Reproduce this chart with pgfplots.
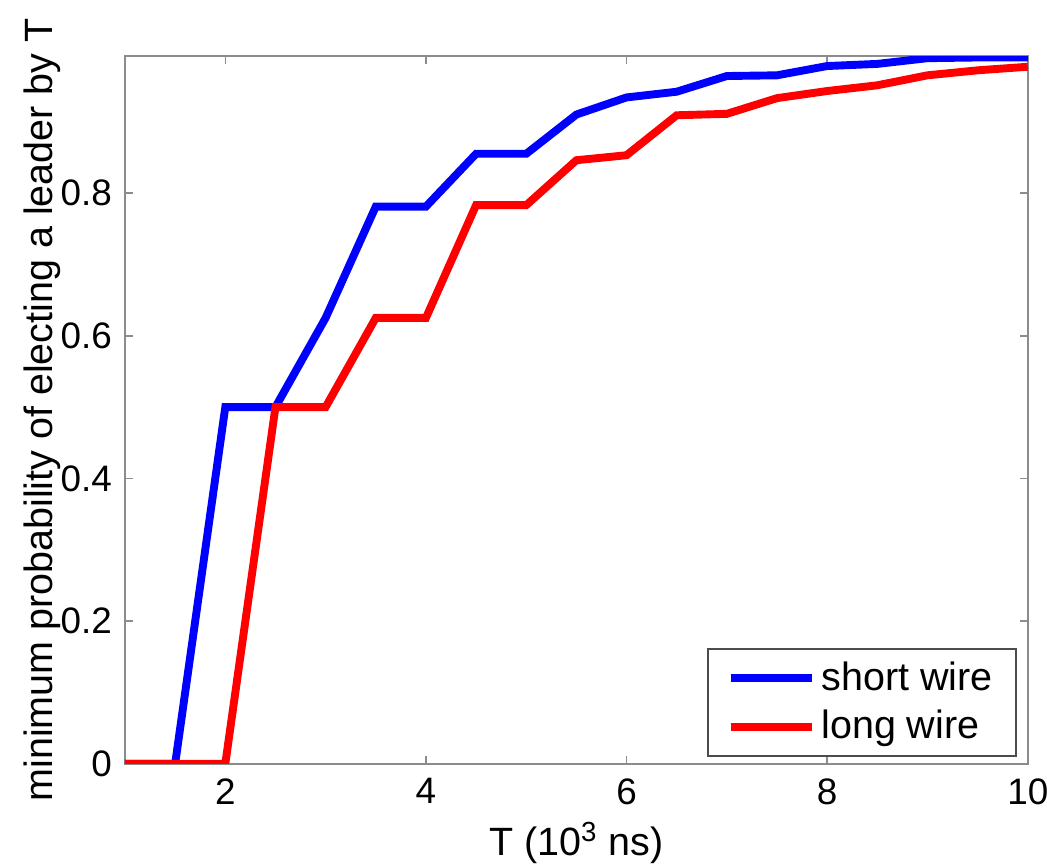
\documentclass[border=0pt]{standalone}
\usepackage{fontspec}
\setmainfont{Liberation Sans}
\usepackage{pgfplots}
\pgfplotsset{compat=1.18}
\definecolor{framegray}{gray}{0.55}

\begin{document}
\begin{tikzpicture}
\path[use as bounding box] (-47.5pt,-38pt) rectangle (350.4pt,290.3pt);
\begin{axis}[
  at={(0,0)}, anchor=south west,
  scale only axis,
  width=343.1pt, height=269pt,
  xmin=1, xmax=10, ymin=0, ymax=0.992,
  xtick={2,4,6,8,10},
  ytick={0,0.2,0.4,0.6,0.8},
  yticklabels={0,0.2,0.4,0.6,0.8},
  tick align=inside,
  major tick length=3pt,
  axis line style={draw=framegray, line width=0.8pt},
  tick style={draw=framegray, line width=0.6pt},
  /pgf/number format/assume math mode=true,
  font=\fontsize{15}{17}\selectfont,
  tick label style={font=\fontsize{14}{16}\selectfont},
  yticklabel style={xshift=-1.5pt},
  xticklabel style={yshift=-2pt},
  xlabel={T (10\textsuperscript{3} ns)},
  ylabel={minimum probability of electing a leader by T},
  xlabel style={yshift=0pt},
  ylabel style={at={(axis description cs:0,0.5)}, anchor=center, yshift=31.5pt},
  legend style={at={(0.988,0.01)}, anchor=south east, draw=black!70, line width=0.6pt,
    font=\fontsize{15}{17}\selectfont, row sep=2pt, inner xsep=7pt, inner ysep=3pt},
  legend cell align=left,
  legend image code/.code={\draw[#1, line width=3pt] (0pt,0pt) -- (26.6pt,0pt);
    \path (0pt,0pt) -- (31pt,0pt);},
]
\addplot[blue, line width=3pt, line join=miter] coordinates {
  (1,0) (1.5,0) (2,0.5) (2.5,0.5) (3,0.625) (3.5,0.781) (4,0.781)
  (4.5,0.855) (5,0.855) (5.5,0.910) (6,0.934) (6.5,0.942) (7,0.964)
  (7.5,0.965) (8,0.978) (8.5,0.981) (9,0.989) (9.5,0.990) (10,0.990)
};
\addlegendentry{short wire}
\addplot[red, line width=3pt, line join=miter] coordinates {
  (1,0) (1.5,0) (2,0) (2.5,0.5) (3,0.5) (3.5,0.625) (4,0.625)
  (4.5,0.783) (5,0.783) (5.5,0.846) (6,0.853) (6.5,0.909) (7,0.911)
  (7.5,0.933) (8,0.943) (8.5,0.951) (9,0.965) (9.5,0.972) (10,0.977)
};
\addlegendentry{long wire}
\end{axis}
\end{tikzpicture}
\end{document}
